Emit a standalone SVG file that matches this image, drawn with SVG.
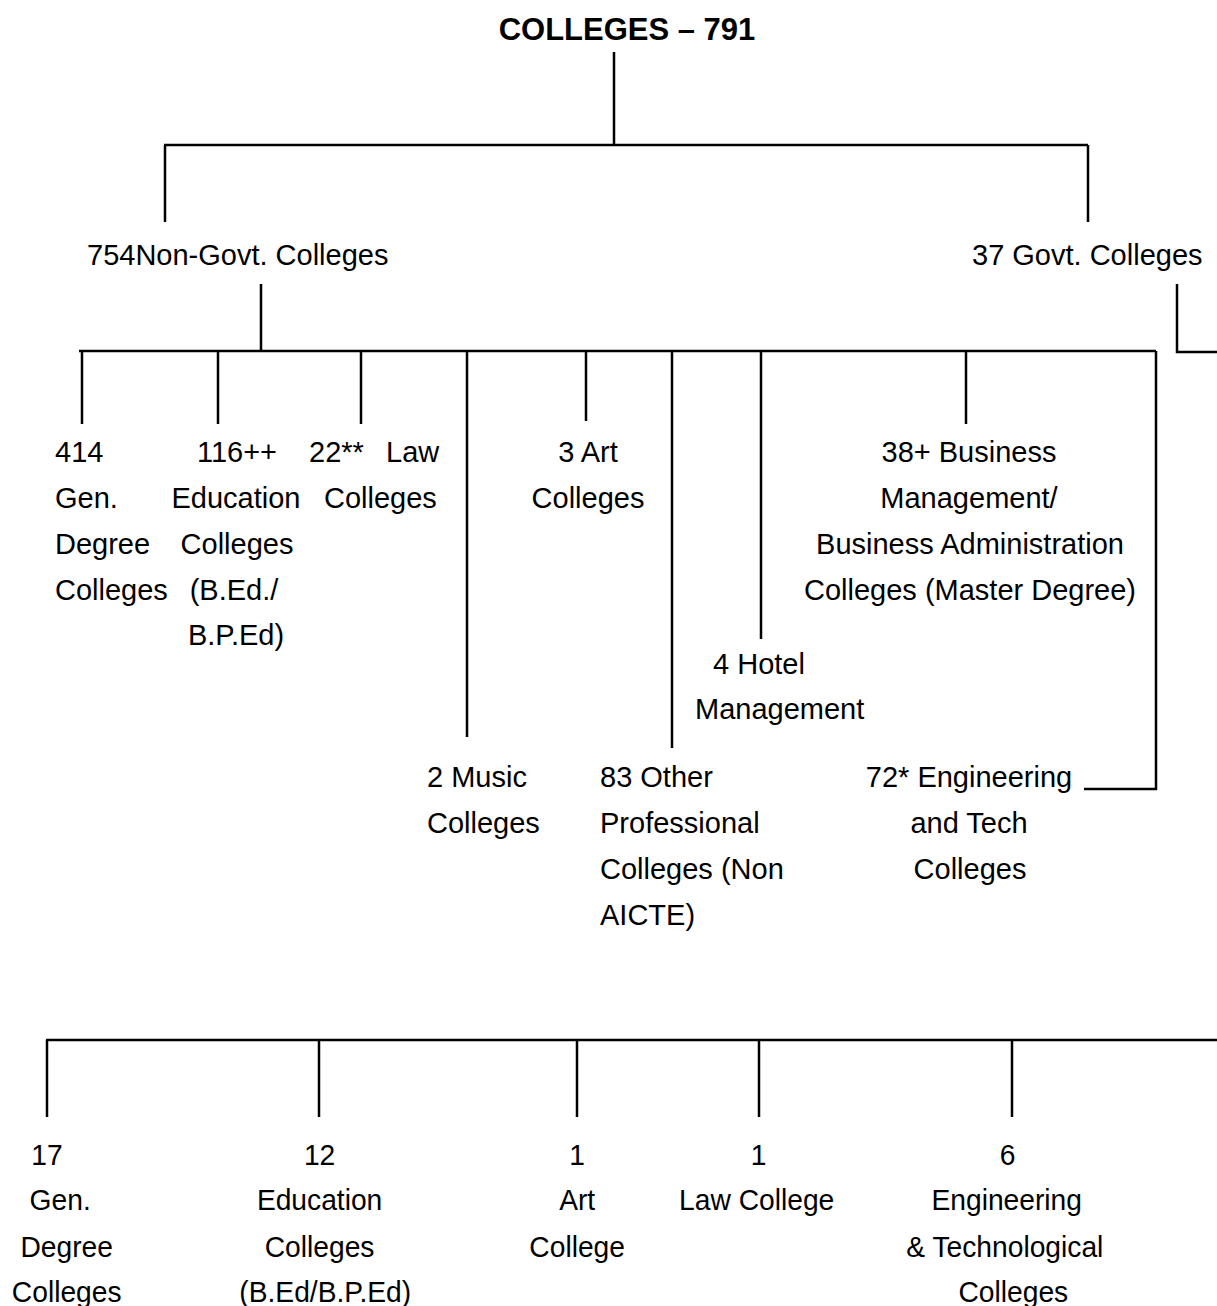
<svg xmlns="http://www.w3.org/2000/svg" width="1217" height="1306" viewBox="0 0 1217 1306">
<style>
.t{font-family:"Liberation Sans",Arial,sans-serif;font-size:29px;fill:#000}
.c{text-anchor:middle}
.b{font-weight:bold;font-size:31px}
.n{font-size:30px}
.ln{stroke:#000;stroke-width:2.5;fill:none}
</style>
<rect width="1217" height="1306" fill="#fff"/>
<g id="connectors" class="ln">
<path d="M614 52V145M164 145H1088M165 145V222M1088 145V222"/>
<path d="M261 284V351M79 351H1156M82 351V424M218 351V424M361 351V424M467 351V737M586 351V421M672 351V748M761 351V639M966 351V424M1156 351V789H1084"/>
<path d="M1177 284V352H1217"/>
<path d="M46 1040H1217M47 1040V1117M319 1040V1117M577 1040V1117M759 1040V1117M1012 1040V1117"/>
</g>
<g id="root"><text class="t b c" x="627" y="40">COLLEGES – 791</text></g>
<g id="nongovt"><text class="t" x="87" y="265">754Non-Govt. Colleges</text></g>
<g id="govt"><text class="t" x="972" y="265">37 Govt. Colleges</text></g>
<g id="gen414"><text class="t" x="55" y="462">414</text><text class="t" x="55" y="508">Gen.</text><text class="t" x="55" y="554">Degree</text><text class="t" x="55" y="600">Colleges</text></g>
<g id="edu116"><text class="t c" x="237" y="462">116++</text><text class="t c" x="236" y="508">Education</text><text class="t c" x="237" y="554">Colleges</text><text class="t c" x="234" y="600">(B.Ed./</text><text class="t c" x="236" y="645">B.P.Ed)</text></g>
<g id="law22"><text class="t" x="309" y="462">22**<tspan x="386">Law</tspan></text><text class="t" x="324" y="508">Colleges</text></g>
<g id="art3"><text class="t c" x="588" y="462">3 Art</text><text class="t c" x="588" y="508">Colleges</text></g>
<g id="bus38"><text class="t c" x="969" y="462">38+ Business</text><text class="t c" x="969" y="508">Management/</text><text class="t c" x="970" y="554">Business Administration</text><text class="t c" x="970" y="600">Colleges (Master Degree)</text></g>
<g id="hotel4"><text class="t" x="713" y="674">4 Hotel</text><text class="t" x="695" y="719">Management</text></g>
<g id="music2"><text class="t" x="427" y="787">2 Music</text><text class="t" x="427" y="833">Colleges</text></g>
<g id="other83"><text class="t" x="600" y="787">83 Other</text><text class="t" x="600" y="833">Professional</text><text class="t" x="600" y="879">Colleges (Non</text><text class="t" x="600" y="925">AICTE)</text></g>
<g id="eng72"><text class="t c" x="969" y="787">72* Engineering</text><text class="t c" x="969" y="833">and Tech</text><text class="t c" x="970" y="879">Colleges</text></g>
<g transform="scale(0.94 1)">
<g id="gen17"><text class="t n c" x="50" y="1165">17</text><text class="t n c" x="64" y="1210">Gen.</text><text class="t n c" x="71" y="1257">Degree</text><text class="t n c" x="71" y="1302">Colleges</text></g>
<g id="edu12"><text class="t n c" x="340" y="1165">12</text><text class="t n c" x="340" y="1210">Education</text><text class="t n c" x="340" y="1257">Colleges</text><text class="t n c" x="346" y="1302">(B.Ed/B.P.Ed)</text></g>
<g id="art1"><text class="t n c" x="614" y="1165">1</text><text class="t n c" x="614" y="1210">Art</text><text class="t n c" x="614" y="1257">College</text></g>
<g id="law1"><text class="t n c" x="807" y="1165">1</text><text class="t n c" x="805" y="1210">Law College</text></g>
<g id="eng6"><text class="t n c" x="1072" y="1165">6</text><text class="t n c" x="1071" y="1210">Engineering</text><text class="t n c" x="1069" y="1257">&amp; Technological</text><text class="t n c" x="1078" y="1302">Colleges</text></g>
</g>
</svg>
